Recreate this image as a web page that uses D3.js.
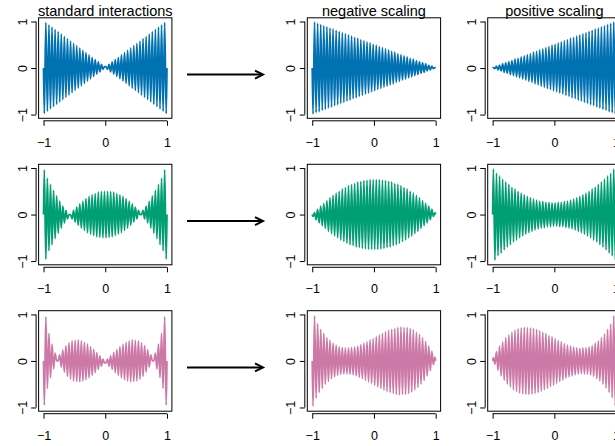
<!DOCTYPE html>
<html>
<head>
<meta charset="utf-8">
<script src="https://cdn.jsdelivr.net/npm/d3@7"></script>
<style>
  body { margin: 0; background: #ffffff; }
  svg { display: block; }
</style>
</head>
<body>
<div id="chart"></div>
<script>
// centre of each oscillation cycle (20 cycles per unit on [-1, 1])
const cycleX = [-0.975, -0.925, -0.875, -0.825, -0.775, -0.725, -0.675, -0.625, -0.575, -0.525,
                -0.475, -0.425, -0.375, -0.325, -0.275, -0.225, -0.175, -0.125, -0.075, -0.025,
                 0.025,  0.075,  0.125,  0.175,  0.225,  0.275,  0.325,  0.375,  0.425,  0.475,
                 0.525,  0.575,  0.625,  0.675,  0.725,  0.775,  0.825,  0.875,  0.925,  0.975];

// signed amplitude of each cycle
const standard1 = [-0.98, -0.93, -0.88, -0.83, -0.78, -0.73, -0.68, -0.63, -0.58, -0.53,
                   -0.48, -0.43, -0.38, -0.33, -0.28, -0.23, -0.18, -0.13, -0.08, -0.03,
                    0.03,  0.08,  0.13,  0.18,  0.23,  0.28,  0.33,  0.38,  0.43,  0.48,
                    0.53,  0.58,  0.63,  0.68,  0.73,  0.78,  0.83,  0.88,  0.93,  0.98];
const standard2 = [0.96, 0.78, 0.65, 0.52, 0.40, 0.29, 0.18, 0.09, 0.00, -0.09,
                   -0.16, -0.23, -0.29, -0.34, -0.39, -0.42, -0.45, -0.48, -0.49, -0.50,
                   -0.50, -0.49, -0.48, -0.45, -0.42, -0.39, -0.34, -0.29, -0.23, -0.16,
                   -0.09, 0.00, 0.09, 0.18, 0.29, 0.40, 0.52, 0.65, 0.78, 0.96];
const standard3 = [-0.95, -0.59, -0.36, -0.17, 0.00, 0.13, 0.24, 0.33, 0.39, 0.43,
                    0.44, 0.45, 0.43, 0.40, 0.36, 0.31, 0.25, 0.18, 0.11, 0.04,
                   -0.04, -0.11, -0.18, -0.25, -0.31, -0.36, -0.40, -0.43, -0.45, -0.44,
                   -0.43, -0.39, -0.33, -0.24, -0.13, 0.00, 0.17, 0.36, 0.59, 0.95];

const negative1 = [-0.99, -0.96, -0.94, -0.91, -0.89, -0.86, -0.84, -0.81, -0.79, -0.76,
                   -0.74, -0.71, -0.69, -0.66, -0.64, -0.61, -0.59, -0.56, -0.54, -0.51,
                   -0.49, -0.46, -0.44, -0.41, -0.39, -0.36, -0.34, -0.31, -0.29, -0.26,
                   -0.24, -0.21, -0.19, -0.16, -0.14, -0.11, -0.09, -0.06, -0.04, -0.01];
const negative2 = [-0.04, -0.11, -0.18, -0.24, -0.30, -0.36, -0.41, -0.46, -0.50, -0.55,
                   -0.58, -0.62, -0.65, -0.67, -0.70, -0.71, -0.73, -0.74, -0.75, -0.75,
                   -0.75, -0.75, -0.74, -0.73, -0.71, -0.70, -0.67, -0.65, -0.62, -0.58,
                   -0.55, -0.50, -0.46, -0.41, -0.36, -0.30, -0.24, -0.18, -0.11, -0.04];
const negative3 = [-0.97, -0.80, -0.68, -0.59, -0.50, -0.44, -0.38, -0.34, -0.31, -0.29,
                   -0.28, -0.28, -0.29, -0.30, -0.32, -0.35, -0.38, -0.41, -0.45, -0.48,
                   -0.52, -0.56, -0.59, -0.63, -0.66, -0.68, -0.70, -0.72, -0.73, -0.72,
                   -0.72, -0.70, -0.67, -0.62, -0.57, -0.50, -0.42, -0.32, -0.21, -0.08];

const positive1 = [0.01, 0.04, 0.06, 0.09, 0.11, 0.14, 0.16, 0.19, 0.21, 0.24,
                   0.26, 0.29, 0.31, 0.34, 0.36, 0.39, 0.41, 0.44, 0.46, 0.49,
                   0.51, 0.54, 0.56, 0.59, 0.61, 0.64, 0.66, 0.69, 0.71, 0.74,
                   0.76, 0.79, 0.81, 0.84, 0.86, 0.89, 0.91, 0.94, 0.96, 0.99];
const positive2 = [0.98, 0.89, 0.83, 0.76, 0.70, 0.65, 0.59, 0.55, 0.50, 0.46,
                   0.42, 0.39, 0.36, 0.33, 0.31, 0.29, 0.28, 0.26, 0.26, 0.25,
                   0.25, 0.26, 0.26, 0.28, 0.29, 0.31, 0.33, 0.36, 0.39, 0.42,
                   0.46, 0.50, 0.55, 0.59, 0.65, 0.70, 0.76, 0.83, 0.89, 0.98];
const positive3 = [0.07, 0.20, 0.32, 0.41, 0.50, 0.56, 0.62, 0.66, 0.69, 0.71,
                   0.72, 0.72, 0.71, 0.70, 0.68, 0.65, 0.62, 0.59, 0.55, 0.52,
                   0.48, 0.44, 0.41, 0.37, 0.34, 0.32, 0.30, 0.28, 0.27, 0.28,
                   0.28, 0.30, 0.33, 0.38, 0.43, 0.50, 0.58, 0.68, 0.79, 0.97];

const columnTitles = ["standard interactions", "negative scaling", "positive scaling"];
const rowColors = ["#0072B2", "#009E73", "#CC79A7"];
const tickValues = [-1, 0, 1];
const tickLabels = ["\u22121", "0", "1"];

const grid = [
    [standard1, negative1, positive1],
    [standard2, negative2, positive2],
    [standard3, negative3, positive3]
];

const width = 615, height = 446;
const colLeft = [38.6, 307.3, 487.7];
const rowTop = [17.8, 164.3, 310.7];
const boxW = 133.3, boxH = 100.5;
const quarter = 0.0125; // quarter period of the carrier

const svg = d3.select("#chart").append("svg")
    .attr("width", width).attr("height", height)
    .style("font-family", "'Liberation Sans', Arial, Helvetica, sans-serif");

svg.append("rect").attr("width", width).attr("height", height).attr("fill", "#fff");

grid.forEach((row, r) => {
    row.forEach((amps, c) => {
        const left = colLeft[c], top = rowTop[r];
        const x = d3.scaleLinear().domain([-1.08, 1.08]).range([left, left + boxW]);
        const y = d3.scaleLinear().domain([-1.08, 1.08]).range([top + boxH, top]);

        const pts = [[-1, 0]];
        cycleX.forEach((cx, k) => {
            pts.push([cx - quarter, amps[k]]);
            pts.push([cx + quarter, -amps[k]]);
        });
        pts.push([1, 0]);

        const line = d3.line().x(d => x(d[0])).y(d => y(d[1])).curve(d3.curveMonotoneX);

        svg.append("path").datum(pts)
            .attr("fill", "none")
            .attr("stroke", rowColors[r])
            .attr("stroke-width", 1.8)
            .attr("d", line);

        svg.append("rect")
            .attr("x", left).attr("y", top)
            .attr("width", boxW).attr("height", boxH)
            .attr("fill", "none").attr("stroke", "#000").attr("stroke-width", 1);

        // x axis
        const xa = svg.append("g").attr("transform", `translate(0,${top + boxH + 2.5})`)
            .call(d3.axisBottom(x).tickValues(tickValues).tickSize(5).tickPadding(12)
                .tickFormat((d, i) => tickLabels[i]));
        xa.select(".domain").attr("d", `M${x(-1)},0H${x(1)}`).attr("stroke", "#000");
        xa.selectAll(".tick line").attr("stroke", "#000");
        xa.selectAll("text").attr("font-size", 12.5).attr("font-family", null).attr("fill", "#000");

        // y axis, labels rotated as in base R
        const ya = svg.append("g").attr("transform", `translate(${left - 2.5},0)`)
            .call(d3.axisLeft(y).tickValues(tickValues).tickSize(5).tickFormat((d, i) => tickLabels[i]));
        ya.select(".domain").attr("d", `M0,${y(-1)}V${y(1)}`).attr("stroke", "#000");
        ya.selectAll(".tick line").attr("stroke", "#000");
        ya.selectAll("text")
            .attr("font-size", 12.5).attr("font-family", null).attr("fill", "#000")
            .attr("x", null).attr("dy", null)
            .attr("text-anchor", "middle")
            .attr("transform", "translate(-9.5,0) rotate(-90)");

        if (r === 0) {
            svg.append("text")
                .attr("x", left + boxW / 2).attr("y", 15.5)
                .attr("text-anchor", "middle")
                .style("font-size", "14.5px").style("fill", "#000")
                .text(columnTitles[c]);
        }
    });

    // arrow between the standard panel and the scaled panels
    const ay = rowTop[r] + boxH / 2 + 6.5;
    svg.append("line")
        .attr("x1", 187).attr("x2", 262).attr("y1", ay).attr("y2", ay)
        .attr("stroke", "#000").attr("stroke-width", 2);
    svg.append("path")
        .attr("d", `M${255},${ay - 4}L${263},${ay}L${255},${ay + 4}`)
        .attr("fill", "none").attr("stroke", "#000").attr("stroke-width", 2);
});
</script>
</body>
</html>
